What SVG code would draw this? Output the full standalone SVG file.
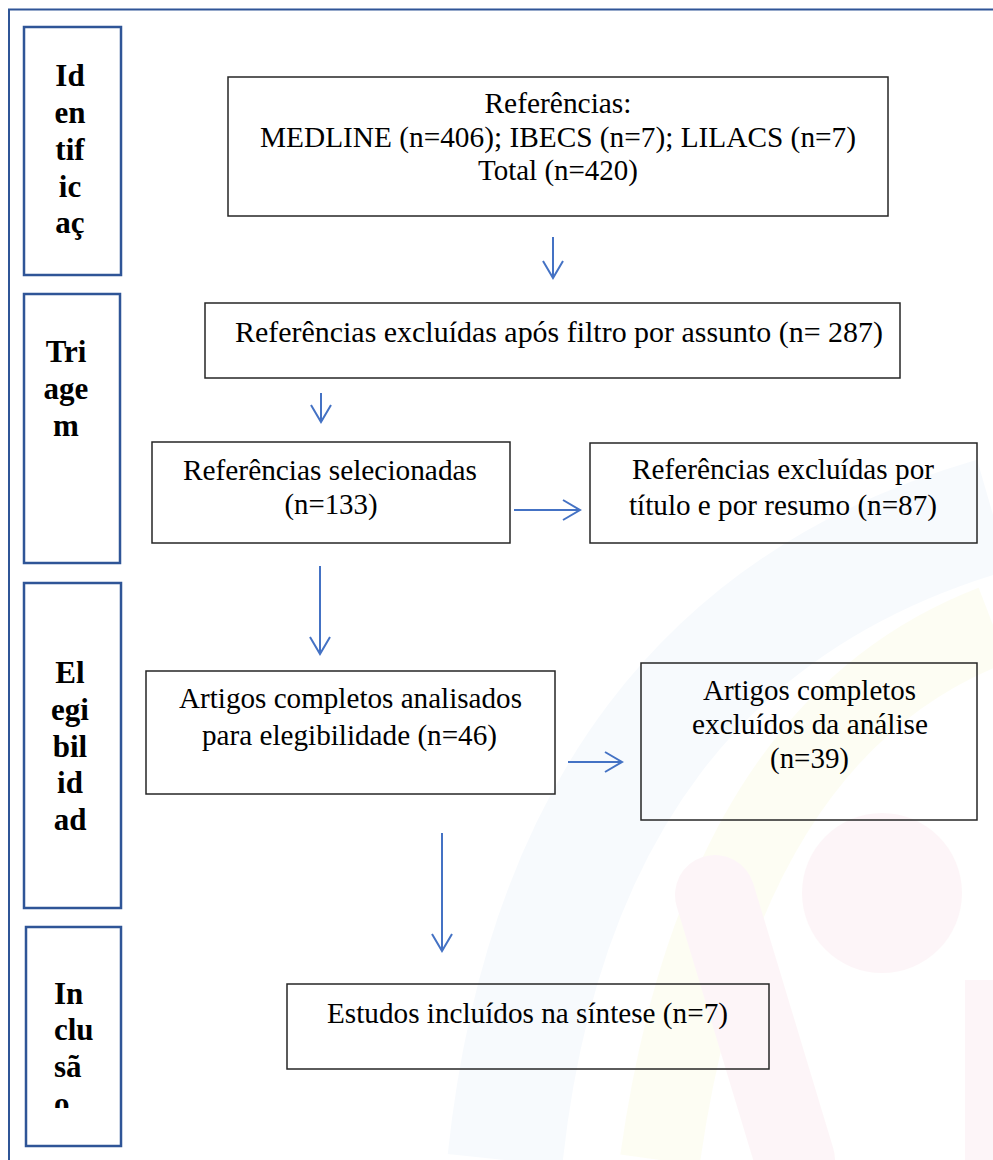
<svg xmlns="http://www.w3.org/2000/svg" width="993" height="1160" viewBox="0 0 993 1160">
<defs>
<style>
.box{fill:none;stroke:#262626;stroke-width:1.5}
.side{fill:none;stroke:#2F5597;stroke-width:2.5}
.t{font-family:"Liberation Serif","Times New Roman",serif;font-size:29px;fill:#000;text-anchor:middle}
.s{font-family:"Liberation Serif","Times New Roman",serif;font-size:31px;font-weight:bold;fill:#000;text-anchor:middle}
.c{fill:none;stroke:#4472C4;stroke-width:2}
</style>
<marker id="ah" markerUnits="userSpaceOnUse" markerWidth="22" markerHeight="24" refX="18" refY="11" orient="auto">
<path d="M1,1 L18,11 L1,21" fill="none" stroke="#4472C4" stroke-width="2"/>
</marker>
<clipPath id="incClip"><rect x="24" y="920" width="100" height="188"/></clipPath>
</defs>
<rect width="993" height="1160" fill="#fff"/>
<g id="watermark" opacity="0.45">
<path d="M505 1160 Q 560 640 993 515" fill="none" stroke="#eef5fc" stroke-width="115"/>
<path d="M660 1160 Q 720 730 993 625" fill="none" stroke="#fcfce6" stroke-width="80"/>
<circle cx="882" cy="893" r="80" fill="#fcebf0"/>
<path d="M715 895 L795 1160" fill="none" stroke="#fcebf0" stroke-width="80" stroke-linecap="round"/>
<path d="M965 980 L993 980 L993 1160 L965 1160 Z" fill="#fcebf0"/>
</g>
<g id="frame">
<path d="M9 1160 L9 9.5 L993 9.5" fill="none" stroke="#2F5597" stroke-width="2"/>
</g>
<g id="stage-identificacao">
<rect class="side" x="24" y="27" width="97" height="248"/>
<text class="s" x="70" y="86">Id</text>
<text class="s" x="70" y="123">en</text>
<text class="s" x="70" y="160">tif</text>
<text class="s" x="70" y="197">ic</text>
<text class="s" x="70" y="233">aç</text>
</g>
<g id="stage-triagem">
<rect class="side" x="24" y="294" width="96" height="269"/>
<text class="s" x="66" y="362">Tri</text>
<text class="s" x="66" y="399">age</text>
<text class="s" x="66" y="436">m</text>
</g>
<g id="stage-elegibilidade">
<rect class="side" x="24" y="583" width="97" height="325"/>
<text class="s" x="70" y="683">El</text>
<text class="s" x="70" y="720">egi</text>
<text class="s" x="70" y="757">bil</text>
<text class="s" x="70" y="793">id</text>
<text class="s" x="70" y="830">ad</text>
</g>
<g id="stage-inclusao">
<rect class="side" x="26" y="927" width="95" height="219"/>
<g clip-path="url(#incClip)">
<text class="s" x="54" y="1004" style="text-anchor:start">In</text>
<text class="s" x="54" y="1040" style="text-anchor:start">clu</text>
<text class="s" x="54" y="1077" style="text-anchor:start">sã</text>
<text class="s" x="54" y="1114" style="text-anchor:start">o</text>
</g>
</g>
<g id="node-referencias">
<rect class="box" x="228" y="77" width="660" height="139"/>
<text class="t" x="558" y="113" textLength="147" lengthAdjust="spacingAndGlyphs">Referências:</text>
<text class="t" x="558" y="147" textLength="596" lengthAdjust="spacingAndGlyphs">MEDLINE (n=406); IBECS (n=7); LILACS (n=7)</text>
<text class="t" x="558" y="180" textLength="160" lengthAdjust="spacingAndGlyphs">Total (n=420)</text>
</g>
<g id="node-excluidas-assunto">
<rect class="box" x="205" y="303" width="695" height="75"/>
<text class="t" x="559" y="342" textLength="648" lengthAdjust="spacingAndGlyphs">Referências excluídas após filtro por assunto (n= 287)</text>
</g>
<g id="node-selecionadas">
<rect class="box" x="152" y="442" width="358" height="101"/>
<text class="t" x="330" y="480" textLength="294" lengthAdjust="spacingAndGlyphs">Referências selecionadas</text>
<text class="t" x="331" y="514" textLength="93" lengthAdjust="spacingAndGlyphs">(n=133)</text>
</g>
<g id="node-excluidas-titulo">
<rect class="box" x="590" y="443" width="387" height="100"/>
<text class="t" x="783" y="479" textLength="302" lengthAdjust="spacingAndGlyphs">Referências excluídas por</text>
<text class="t" x="783" y="515" textLength="308" lengthAdjust="spacingAndGlyphs">título e por resumo (n=87)</text>
</g>
<g id="node-artigos-analisados">
<rect class="box" x="146" y="671" width="409" height="123"/>
<text class="t" x="350.5" y="708" textLength="343" lengthAdjust="spacingAndGlyphs">Artigos completos analisados</text>
<text class="t" x="349.5" y="745" textLength="295" lengthAdjust="spacingAndGlyphs">para elegibilidade (n=46)</text>
</g>
<g id="node-artigos-excluidos">
<rect class="box" x="641" y="663" width="336" height="157"/>
<text class="t" x="809.5" y="700" textLength="213" lengthAdjust="spacingAndGlyphs">Artigos completos</text>
<text class="t" x="810" y="734" textLength="236" lengthAdjust="spacingAndGlyphs">excluídos da análise</text>
<text class="t" x="809.5" y="768" textLength="79" lengthAdjust="spacingAndGlyphs">(n=39)</text>
</g>
<g id="node-incluidos">
<rect class="box" x="287" y="984" width="482" height="85"/>
<text class="t" x="527.5" y="1023" textLength="401" lengthAdjust="spacingAndGlyphs">Estudos incluídos na síntese (n=7)</text>
</g>
<g id="connectors">
<line class="c" x1="553" y1="237" x2="553" y2="278" marker-end="url(#ah)"/>
<line class="c" x1="321" y1="393" x2="321" y2="422" marker-end="url(#ah)"/>
<line class="c" x1="514" y1="510" x2="580" y2="510" marker-end="url(#ah)"/>
<line class="c" x1="320" y1="566" x2="320" y2="654" marker-end="url(#ah)"/>
<line class="c" x1="568" y1="762" x2="622" y2="762" marker-end="url(#ah)"/>
<line class="c" x1="442" y1="833" x2="442" y2="951" marker-end="url(#ah)"/>
</g>
</svg>
